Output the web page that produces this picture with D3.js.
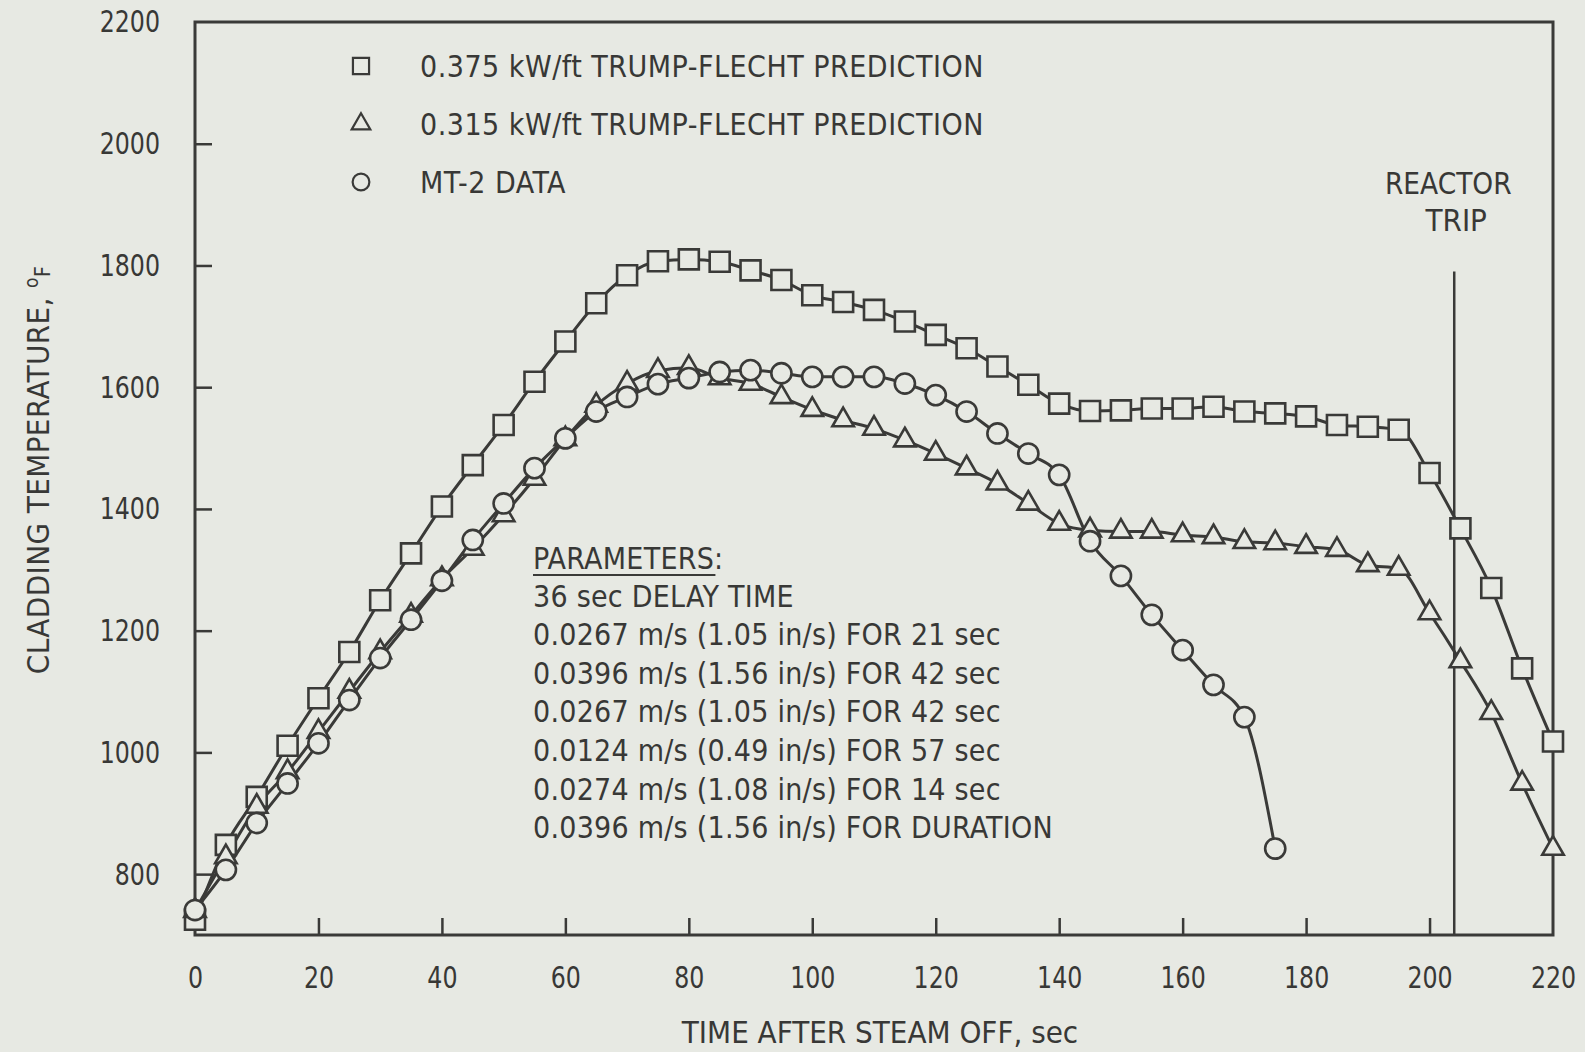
<!DOCTYPE html>
<html>
<head>
<meta charset="UTF-8">
<title>Cladding temperature, MT-2</title>
<style>
  body { margin: 0; background: #e7e9e3; }
  svg { display: block; }
  text {
    font-family: "Liberation Sans Narrow", "DejaVu Sans Condensed", "Roboto Condensed", sans-serif;
    font-stretch: condensed;
    fill: #383836;
  }
  .tick text { font-size: 31px; }
  .legend text { font-size: 30px; letter-spacing: 0.5px; }
  .params text { font-size: 30px; letter-spacing: 0.25px; }
  .title { font-size: 31px; letter-spacing: 0px; }
  .series { fill: none; stroke: #3a3a38; stroke-width: 3px; }
  .mark { fill: #e7e9e3; stroke: #3a3a38; stroke-width: 2.6px; }
</style>
<script src="https://d3js.org/d3.v7.min.js"></script>
</head>
<body>
<div id="chart"></div>
<script>
const W = 1585, H = 1052;
const margin = { left: 195, right: 32, top: 22, bottom: 117 };

// time after steam off, sec
const timeSec = [0, 5, 10, 15, 20, 25, 30, 35, 40, 45, 50, 55, 60, 65, 70, 75, 80, 85, 90, 95, 100,
  105, 110, 115, 120, 125, 130, 135, 140, 145, 150, 155, 160, 165, 170, 175, 180, 185, 190, 195, 200,
  205, 210, 215, 220];
// 0.375 kW/ft TRUMP-FLECHT prediction, deg F
const trump375 = [725, 848, 927, 1011, 1089, 1165, 1250, 1327, 1404, 1472, 1538, 1609, 1675, 1738, 1784,
  1807, 1810, 1806, 1792, 1776, 1751, 1740, 1727, 1708, 1686, 1664, 1634, 1604, 1573, 1561, 1562, 1565,
  1565, 1568, 1560, 1557, 1552, 1538, 1535, 1530, 1459, 1368, 1270, 1138, 1018];
// 0.315 kW/ft TRUMP-FLECHT prediction, deg F
const trump315 = [740, 828, 911, 968, 1034, 1100, 1165, 1225, 1285, 1335, 1390, 1450, 1515, 1570, 1606,
  1627, 1632, 1615, 1606, 1584, 1563, 1546, 1532, 1513, 1491, 1467, 1442, 1409, 1376, 1365, 1363, 1363,
  1357, 1354, 1346, 1344, 1338, 1333, 1308, 1302, 1229, 1150, 1065, 949, 842];
// MT-2 data
const mt2Time = [0, 5, 10, 15, 20, 25, 30, 35, 40, 45, 50, 55, 60, 65, 70, 75, 80, 85, 90, 95, 100,
  105, 110, 115, 120, 125, 130, 135, 140, 145, 150, 155, 160, 165, 170, 175];
const mt2Temp = [741, 807, 884, 949, 1015, 1086, 1155, 1218, 1282, 1349, 1409, 1467, 1516, 1560, 1584,
  1605, 1615, 1625, 1628, 1623, 1617, 1617, 1617, 1606, 1587, 1560, 1524, 1491, 1456, 1347, 1290, 1226,
  1168, 1111, 1058, 842];

const xTicks = [0, 20, 40, 60, 80, 100, 120, 140, 160, 180, 200, 220];
const yTicks = [800, 1000, 1200, 1400, 1600, 1800, 2000, 2200];
const reactorTrip = 204;

const legendLabels = ["0.375 kW/ft TRUMP-FLECHT PREDICTION", "0.315 kW/ft TRUMP-FLECHT PREDICTION", "MT-2 DATA"];
const paramLines = [
  "36 sec DELAY TIME",
  "0.0267 m/s (1.05 in/s) FOR 21 sec",
  "0.0396 m/s (1.56 in/s) FOR 42 sec",
  "0.0267 m/s (1.05 in/s) FOR 42 sec",
  "0.0124 m/s (0.49 in/s) FOR 57 sec",
  "0.0274 m/s (1.08 in/s) FOR 14 sec",
  "0.0396 m/s (1.56 in/s) FOR DURATION"
];

const svg = d3.select("#chart").append("svg")
  .attr("width", W)
  .attr("height", H);

const x = d3.scaleLinear().domain([0, 220]).range([margin.left, W - margin.right]);
const y = d3.scaleLinear().domain([700, 2200]).range([H - margin.bottom, margin.top]);
const ink = "#3a3a38";

// narrow the glyphs a bit, the original lettering is tall and thin
const squeeze = (sel, k) => sel.each(function() {
  const w = this.getComputedTextLength();
  d3.select(this).attr("textLength", w * k).attr("lengthAdjust", "spacingAndGlyphs");
});

// axes (ticks point inward)
const gx = svg.append("g")
  .attr("transform", "translate(0," + y.range()[0] + ")")
  .call(d3.axisBottom(x).tickValues(xTicks).tickSize(-17).tickPadding(31).tickFormat(d3.format("d")));
gx.select(".domain").remove();
gx.selectAll(".tick line").attr("stroke", ink).attr("stroke-width", 2.5)
  .filter(d => d === 0 || d === 220).remove();

const gy = svg.append("g")
  .attr("transform", "translate(" + x.range()[0] + ",0)")
  .call(d3.axisLeft(y).tickValues(yTicks).tickSize(-17).tickPadding(35).tickFormat(d3.format("d")));
gy.select(".domain").remove();
gy.selectAll(".tick line").attr("stroke", ink).attr("stroke-width", 2.5)
  .filter(d => d === 2200).remove();
svg.selectAll(".tick text").attr("fill", ink).style("font-family", null)
  .call(squeeze, 0.85);

// frame
svg.append("rect")
  .attr("x", x.range()[0]).attr("y", y.range()[1])
  .attr("width", x.range()[1] - x.range()[0])
  .attr("height", y.range()[0] - y.range()[1])
  .attr("fill", "none").attr("stroke", ink).attr("stroke-width", 3);

// reactor trip
svg.append("line")
  .attr("x1", x(reactorTrip)).attr("x2", x(reactorTrip))
  .attr("y1", y(1790)).attr("y2", y(700))
  .attr("stroke", ink).attr("stroke-width", 2.5);
svg.append("text").attr("class", "title")
  .attr("x", x(reactorTrip) - 6).attr("y", 194)
  .attr("text-anchor", "middle").text("REACTOR")
  .call(squeeze, 0.95);
svg.append("text").attr("class", "title")
  .attr("x", x(reactorTrip) + 2).attr("y", 231)
  .attr("text-anchor", "middle").text("TRIP");

// series
const line = d3.line().x(d => x(d[0])).y(d => y(d[1])).curve(d3.curveMonotoneX);
const sqPts = timeSec.map((t, i) => [t, trump375[i]]);
const triPts = timeSec.map((t, i) => [t, trump315[i]]);
const cirPts = mt2Time.map((t, i) => [t, mt2Temp[i]]);

[sqPts, triPts, cirPts].forEach(pts => {
  svg.append("path").attr("class", "series").attr("d", line(pts));
});

const symbols = [
  { pts: sqPts, type: d3.symbolSquare, size: 400 },
  { pts: triPts, type: d3.symbolTriangle, size: 200 },
  { pts: cirPts, type: d3.symbolCircle, size: 320 }
];
symbols.forEach(s => {
  svg.append("g").selectAll("path")
    .data(s.pts)
    .enter().append("path")
      .attr("class", "mark")
      .attr("d", d3.symbol().type(s.type).size(s.size))
      .attr("transform", d => "translate(" + x(d[0]) + "," + y(d[1]) + ")");
});

// legend
const legend = svg.append("g").attr("class", "legend");
const legendY = [66, 124, 182];
legendLabels.forEach((lab, i) => {
  legend.append("path")
    .attr("d", d3.symbol().type(symbols[i].type).size([260, 150, 220][i]))
    .attr("transform", "translate(361," + legendY[i] + ")")
    .attr("fill", "none").attr("stroke", ink).attr("stroke-width", 2.2);
  legend.append("text")
    .attr("x", 420).attr("y", legendY[i])
    .attr("dy", "0.35em")
    .text(lab);
});

// parameters box
const params = svg.append("g").attr("class", "params");
const head = params.append("text")
  .attr("x", 533).attr("y", 558).attr("dy", "0.35em")
  .text("PARAMETERS:");
const headWidth = head.node().getComputedTextLength();
params.append("line")
  .attr("x1", 533).attr("x2", 533 + headWidth - 8)
  .attr("y1", 575).attr("y2", 575)
  .attr("stroke", ink).attr("stroke-width", 2);
paramLines.forEach((s, i) => {
  params.append("text")
    .attr("x", 533).attr("y", 596 + i * 38.6).attr("dy", "0.35em")
    .text(s);
});

// axis titles
svg.append("text").attr("class", "title")
  .attr("x", 880).attr("y", 1043)
  .attr("text-anchor", "middle")
  .text("TIME AFTER STEAM OFF, sec");

const yTitle = svg.append("text").attr("class", "title")
  .attr("transform", "translate(49,470) rotate(-90)")
  .attr("text-anchor", "middle")
  .style("letter-spacing", "0.4px");
yTitle.append("tspan").text("CLADDING TEMPERATURE,  ");
yTitle.append("tspan").attr("font-size", 19).attr("dy", -11).text("o");
yTitle.append("tspan").attr("font-size", 21).attr("dy", 12).text("F");
</script>
</body>
</html>
